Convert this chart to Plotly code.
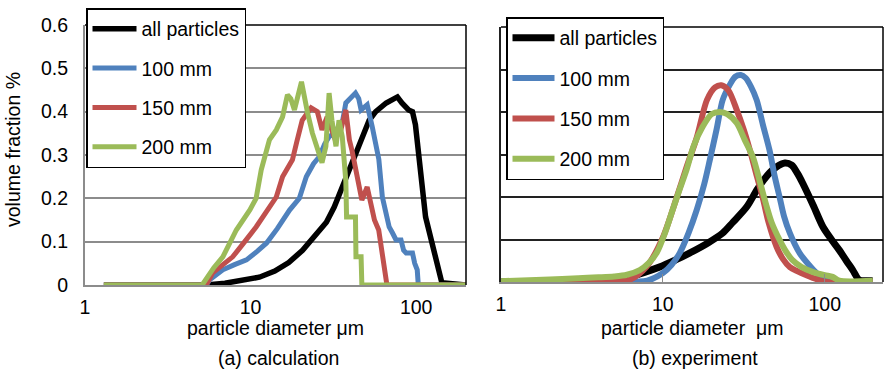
import plotly.graph_objects as go
import numpy as np

# ---- (a) calculation ----
calc_all_d = [1.3, 5.4, 7, 9, 11.3, 14, 17, 20.6, 24, 28.7, 32, 35, 39.5, 45, 52, 57, 65.9, 72, 77, 82, 90, 95, 99, 114, 130, 143, 200]
calc_all_v = [0, 0, 0.004, 0.01, 0.018, 0.032, 0.052, 0.08, 0.11, 0.145, 0.18, 0.215, 0.266, 0.32, 0.38, 0.4, 0.42, 0.43, 0.434, 0.42, 0.404, 0.40, 0.37, 0.157, 0.07, 0.005, 0]

calc_100_d = [1.3, 5.4, 5.66, 6.8, 8, 9.45, 11, 12.5, 14.5, 17.2, 19.7, 21.7, 24, 26, 28, 29.8, 32, 34.2, 36, 37.6, 40, 43, 45, 46.5, 48.5, 50.6, 54.3, 57.5, 59.5, 62.5, 68.7, 72, 75.6, 81, 84, 87, 95, 98, 101.5, 103, 200]
calc_100_v = [0, 0, 0.012, 0.035, 0.047, 0.058, 0.078, 0.097, 0.13, 0.173, 0.2, 0.25, 0.28, 0.296, 0.325, 0.342, 0.35, 0.365, 0.38, 0.42, 0.43, 0.443, 0.43, 0.404, 0.41, 0.416, 0.365, 0.31, 0.29, 0.203, 0.134, 0.12, 0.104, 0.104, 0.08, 0.074, 0.074, 0.05, 0.035, 0, 0]

calc_150_d = [1.3, 5.4, 5.9, 7.8, 9, 10.8, 12.5, 14.3, 15.6, 17.9, 19, 20.5, 23.2, 25.3, 27, 29, 32, 35.1, 37.6, 39.5, 41, 43, 45.3, 47, 50.6, 53.5, 56, 59.4, 62, 64, 66.6, 200]
calc_150_v = [0, 0, 0.028, 0.065, 0.095, 0.134, 0.17, 0.203, 0.25, 0.289, 0.33, 0.38, 0.409, 0.40, 0.358, 0.388, 0.342, 0.358, 0.404, 0.335, 0.31, 0.272, 0.23, 0.196, 0.226, 0.18, 0.15, 0.127, 0.08, 0.051, 0, 0]

calc_200_d = [1.3, 5.1, 6, 6.8, 8.2, 9.9, 10.8, 11.6, 13, 14.3, 15.6, 16.7, 17.5, 18.4, 20.3, 21.2, 22.1, 23.6, 25.3, 27, 28.5, 29.8, 31, 32.8, 34.2, 35.8, 37.6, 38, 43, 43.3, 46.5, 47, 200]
calc_200_v = [0, 0, 0.04, 0.065, 0.127, 0.173, 0.2, 0.266, 0.335, 0.358, 0.388, 0.439, 0.43, 0.404, 0.469, 0.427, 0.397, 0.351, 0.319, 0.282, 0.32, 0.443, 0.38, 0.32, 0.38, 0.342, 0.24, 0.157, 0.157, 0.065, 0.065, 0, 0]

# ---- (b) experiment ----
exp_all_d = [1, 5, 6, 9.5, 12, 14.6, 19, 23.4, 27, 33, 38, 42, 45.7, 50, 56.7, 62.5, 68, 73, 85, 97.4, 110, 123, 136, 149, 163, 180, 198]
exp_all_v = [0, 0.002, 0.01, 0.035, 0.052, 0.068, 0.092, 0.115, 0.14, 0.177, 0.216, 0.24, 0.257, 0.27, 0.28, 0.275, 0.255, 0.233, 0.18, 0.13, 0.1, 0.075, 0.05, 0.028, 0.005, 0.003, 0.003]

exp_100_d = [1, 5, 8, 10, 11.3, 12.7, 14.4, 16.2, 18, 19.5, 21.5, 23.4, 26, 28, 30.3, 32.5, 35, 38, 41.5, 45.6, 49, 52.6, 56, 60.9, 70, 80, 89, 100, 107, 198]
exp_100_v = [0, 0, 0.003, 0.021, 0.04, 0.068, 0.115, 0.17, 0.23, 0.287, 0.36, 0.428, 0.465, 0.483, 0.487, 0.48, 0.46, 0.428, 0.37, 0.31, 0.25, 0.2, 0.155, 0.115, 0.068, 0.04, 0.021, 0.008, 0, 0]

exp_150_d = [1, 5, 6.3, 7.9, 10, 12.2, 14, 16.2, 18.7, 21, 23, 25.5, 28.6, 31.5, 34.5, 38, 41.3, 45, 50.4, 55, 60.9, 68, 77, 90, 102, 198]
exp_150_v = [0, 0.002, 0.006, 0.035, 0.105, 0.2, 0.27, 0.34, 0.428, 0.458, 0.463, 0.45, 0.405, 0.36, 0.31, 0.25, 0.2, 0.14, 0.083, 0.055, 0.035, 0.025, 0.016, 0.006, 0, 0]

exp_200_d = [1, 2, 3, 4, 5, 6, 7.2, 8.2, 9.2, 10.3, 11.5, 12.7, 14, 15.5, 17.6, 20, 22.5, 25, 28.6, 32, 36, 39.8, 43.6, 47, 52.6, 58, 63, 72, 84, 100, 112, 123, 198]
exp_200_v = [0.002, 0.006, 0.009, 0.011, 0.013, 0.017, 0.028, 0.045, 0.07, 0.115, 0.17, 0.218, 0.264, 0.32, 0.365, 0.395, 0.40, 0.395, 0.374, 0.335, 0.294, 0.235, 0.18, 0.14, 0.099, 0.07, 0.052, 0.035, 0.024, 0.016, 0.012, 0.003, 0.003]

series_names = ["all particles", "100 mm", "150 mm", "200 mm"]
colors = ["#000000", "#4F81BD", "#C0504D", "#9BBB59"]

FONT = "Arial, Liberation Sans, sans-serif"
FS = 19.5
W, H = 886, 370

fig = go.Figure()

calc = [(calc_all_d, calc_all_v), (calc_100_d, calc_100_v), (calc_150_d, calc_150_v), (calc_200_d, calc_200_v)]
exp = [(exp_all_d, exp_all_v), (exp_100_d, exp_100_v), (exp_150_d, exp_150_v), (exp_200_d, exp_200_v)]

for i, (d, v) in enumerate(calc):
    fig.add_trace(go.Scatter(x=d, y=v, mode="lines", name=series_names[i],
                             line=dict(color=colors[i], width=5.5 if i == 0 else 5),
                             xaxis="x", yaxis="y", legend="legend", legendgroup="a%d" % i))
for i, (d, v) in enumerate(exp):
    fig.add_trace(go.Scatter(x=d, y=v, mode="lines", name=series_names[i],
                             line=dict(color=colors[i], width=7 if i == 0 else 6, shape="spline", smoothing=0.8),
                             xaxis="x2", yaxis="y2", legend="legend2", legendgroup="b%d" % i))

xd1 = [85 / W, 466 / W]
yd1 = [1 - 285 / H, 1 - 25 / H]
xd2 = [501 / W, 883 / W]
yd2 = [1 - 282 / H, 1 - 27 / H]

tickfont = dict(family=FONT, size=FS, color="black")
fig.update_layout(
    width=W, height=H, margin=dict(l=0, r=0, t=0, b=0, autoexpand=False),
    paper_bgcolor="white", plot_bgcolor="white",
    xaxis=dict(domain=xd1, type="log", range=[0, np.log10(200)], tickvals=[1, 10, 100],
               ticktext=["1", "10", "100"], showgrid=False, showline=True, linecolor="#8c8c8c",
               linewidth=2, ticks="", tickfont=tickfont, zeroline=False, automargin=False,
               ticklabelstandoff=4),
    yaxis=dict(domain=yd1, range=[0, 0.6], tickvals=[0, 0.1, 0.2, 0.3, 0.4, 0.5, 0.6],
               ticktext=["0", "0.1", "0.2", "0.3", "0.4", "0.5", "0.6"],
               showgrid=True, gridcolor="#8c8c8c", gridwidth=1.5, showline=True, linecolor="#8c8c8c",
               linewidth=2, ticks="", tickfont=tickfont, zeroline=False, ticklabelstandoff=11,
               automargin=False),
    xaxis2=dict(domain=xd2, type="log", range=[0, 2.36], tickvals=[1, 10, 100],
                ticktext=["1", "10", "100"], showgrid=False, showline=True, linecolor="#8c8c8c",
                linewidth=2, ticks="inside", ticklen=8, tickcolor="#8c8c8c", tickfont=tickfont,
                zeroline=False, anchor="y2", automargin=False, ticklabelstandoff=4),
    yaxis2=dict(domain=yd2, range=[0, 0.6], tickvals=[0, 0.1, 0.2, 0.3, 0.4, 0.5, 0.6],
                showticklabels=False, showgrid=True, gridcolor="#222222", gridwidth=1.5,
                showline=True, linecolor="#222222", linewidth=1.5, ticks="", zeroline=False,
                anchor="x2", automargin=False),
    legend=dict(x=86 / W, y=1 - 8 / H, xanchor="left", yanchor="top", bgcolor="white",
                bordercolor="black", borderwidth=1.5, font=dict(family=FONT, size=FS, color="black"),
                tracegroupgap=11, itemwidth=44),
    legend2=dict(x=506 / W, y=1 - 17 / H, xanchor="left", yanchor="top", bgcolor="white",
                 bordercolor="black", borderwidth=1.5, font=dict(family=FONT, size=FS, color="black"),
                 tracegroupgap=12, itemwidth=42),
    showlegend=True,
)

# frame: top and right borders in black
for xa, ya in (("x", "y"), ("x2", "y2")):
    fig.add_shape(type="line", xref=xa + " domain", yref=ya + " domain", x0=0, x1=1, y0=1, y1=1,
                  line=dict(color="black", width=1.5))
    fig.add_shape(type="line", xref=xa + " domain", yref=ya + " domain", x0=1, x1=1, y0=0, y1=1,
                  line=dict(color="black", width=1.5))

def ann(text, x, y, angle=0):
    fig.add_annotation(text=text, x=x / W, y=1 - y / H, xref="paper", yref="paper",
                       showarrow=False, textangle=angle, xanchor="center", yanchor="middle",
                       font=dict(family=FONT, size=FS, color="black"))

ann("volume fraction %", 13, 150, -90)
ann("particle diameter μm", 275, 328)
ann("(a) calculation", 278, 358)
ann("particle diameter\u00a0\u00a0μm", 692, 328)
ann("(b) experiment", 695, 358)

fig.write_html("out.html", config={"displayModeBar": False},
               post_script="document.body.style.margin='0';document.body.style.overflow='hidden';")
